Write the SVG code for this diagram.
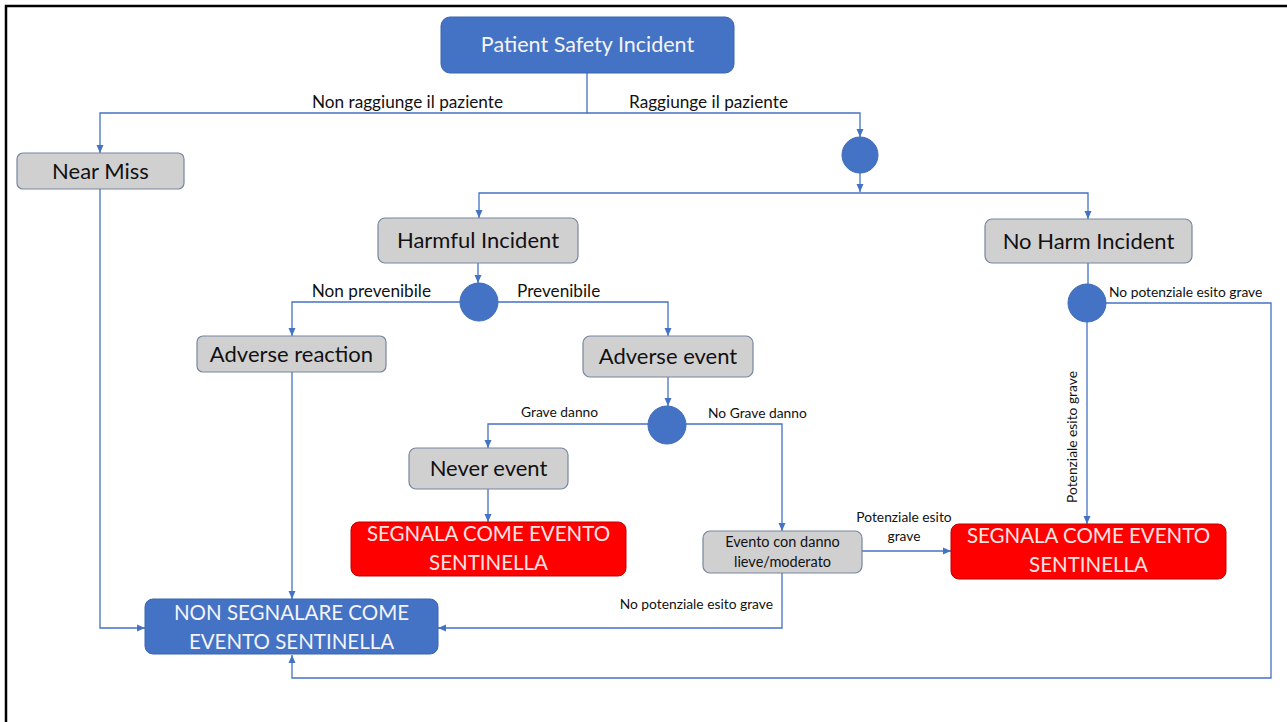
<svg xmlns="http://www.w3.org/2000/svg" width="1287" height="722" viewBox="0 0 1287 722">
<defs>
<marker id="ah" viewBox="0 0 8 8" refX="8" refY="4" markerWidth="8" markerHeight="8" markerUnits="userSpaceOnUse" orient="auto">
<path d="M0,0.5 L8,4 L0,7.5 Z" fill="#4472C4"/>
</marker>
<style>
.frame{stroke:#000;stroke-width:2.5;fill:none}
.blue{fill:#4472C4;stroke:#3B64AE;stroke-width:1}
.gray{fill:#D1D0D0;stroke:#7686A0;stroke-width:1.2}
.red{fill:#FF0000;stroke:#C00000;stroke-width:1}
.dot{fill:#4472C4;stroke:#3F6AB8;stroke-width:1}
.c{fill:none;stroke:#4472C4;stroke-width:1.3}
.a{marker-end:url(#ah)}
text{font-family:Lato,"Liberation Sans",sans-serif}
.t20{font-size:22px;fill:#111;text-anchor:middle}
.w20{font-size:20.5px;fill:#F4F4F8;text-anchor:middle}
.r20{font-size:20.5px;fill:#FCE4E4;text-anchor:middle}
.l16{font-size:17.2px;fill:#111}
.l13{font-size:13.8px;fill:#111}
.n14{font-size:14.5px;fill:#111;text-anchor:middle}
</style>
</defs>
<rect width="1287" height="722" fill="#fff"/>
<path class="frame" d="M6,722 V6 H1287"/>

<g id="connectors">
<path class="c a" d="M587,73 V113 H100 V153"/>
<path class="c a" d="M587,113 H860 V137"/>
<path class="c a" d="M860,173 V192"/>
<path class="c a" d="M860,193 H479 V218"/>
<path class="c a" d="M860,193 H1088 V219"/>
<path class="c a" d="M478,263 V283"/>
<path class="c a" d="M460,302 H292 V336"/>
<path class="c a" d="M498,302 H668 V336"/>
<path class="c a" d="M668,377 V406"/>
<path class="c a" d="M648,424 H488 V448"/>
<path class="c a" d="M686,424 H782 V531"/>
<path class="c a" d="M488,489 V522"/>
<path class="c a" d="M862,551 H951"/>
<path class="c a" d="M782,573 V628 H438"/>
<path class="c a" d="M100,189 V628 H145"/>
<path class="c a" d="M292,372 V599"/>
<path class="c" d="M1088,263 V284"/>
<path class="c a" d="M1087,322 V524"/>
<path class="c a" d="M1106,303 H1271 V678 H292 V655"/>
<text class="l16" x="503" y="108" text-anchor="end">Non raggiunge il paziente</text>
<text class="l16" x="629" y="108">Raggiunge il paziente</text>
<text class="l16" x="431" y="297" text-anchor="end">Non prevenibile</text>
<text class="l16" x="517" y="297">Prevenibile</text>
<text class="l13" x="521" y="417">Grave danno</text>
<text class="l13" x="708" y="418">No Grave danno</text>
<text class="l13" x="1109" y="297">No potenziale esito grave</text>
<text class="l13" x="0" y="0" text-anchor="middle" transform="translate(1077,437) rotate(-90)">Potenziale esito grave</text>
<text class="l13" x="904" y="522" text-anchor="middle">Potenziale esito</text>
<text class="l13" x="904" y="541" text-anchor="middle">grave</text>
<text class="l13" x="773" y="609" text-anchor="end">No potenziale esito grave</text>
</g>

<g id="patient-safety-incident">
<rect class="blue" x="441" y="17" width="293" height="56" rx="9"/>
<text class="w20" x="587.5" y="52" style="font-size:21.5px">Patient Safety Incident</text>
</g>
<g id="near-miss">
<rect class="gray" x="17" y="153" width="167" height="36" rx="6"/>
<text class="t20" x="100.5" y="179">Near Miss</text>
</g>
<g id="decision-1"><circle class="dot" cx="860" cy="155" r="18"/></g>
<g id="harmful-incident">
<rect class="gray" x="378" y="218" width="200" height="45" rx="7"/>
<text class="t20" x="478" y="248">Harmful Incident</text>
</g>
<g id="no-harm-incident">
<rect class="gray" x="985" y="219" width="207" height="44" rx="7"/>
<text class="t20" x="1088.5" y="249">No Harm Incident</text>
</g>
<g id="decision-2"><circle class="dot" cx="479" cy="302" r="19"/></g>
<g id="decision-4"><circle class="dot" cx="1087" cy="303" r="19"/></g>
<g id="adverse-reaction">
<rect class="gray" x="197" y="336" width="189" height="36" rx="6"/>
<text class="t20" x="291.5" y="362">Adverse reaction</text>
</g>
<g id="adverse-event">
<rect class="gray" x="583" y="336" width="170" height="41" rx="7"/>
<text class="t20" x="668" y="364">Adverse event</text>
</g>
<g id="decision-3"><circle class="dot" cx="667" cy="425" r="19"/></g>
<g id="never-event">
<rect class="gray" x="409" y="448" width="159" height="41" rx="7"/>
<text class="t20" x="488.5" y="476">Never event</text>
</g>
<g id="segnala-1">
<rect class="red" x="351" y="522" width="275" height="54" rx="8"/>
<text class="r20" x="488.5" y="541">SEGNALA COME EVENTO</text>
<text class="r20" x="488.5" y="570">SENTINELLA</text>
</g>
<g id="evento-lieve">
<rect class="gray" x="703" y="531" width="159" height="42" rx="7"/>
<text class="n14" x="782.5" y="547">Evento con danno</text>
<text class="n14" x="782.5" y="567">lieve/moderato</text>
</g>
<g id="segnala-2">
<rect class="red" x="951" y="524" width="275" height="55" rx="8"/>
<text class="r20" x="1088.5" y="543">SEGNALA COME EVENTO</text>
<text class="r20" x="1088.5" y="572">SENTINELLA</text>
</g>
<g id="non-segnalare">
<rect class="blue" x="145" y="599" width="293" height="55" rx="8"/>
<text class="w20" x="291.5" y="620">NON SEGNALARE COME</text>
<text class="w20" x="291.5" y="649">EVENTO SENTINELLA</text>
</g>
</svg>
